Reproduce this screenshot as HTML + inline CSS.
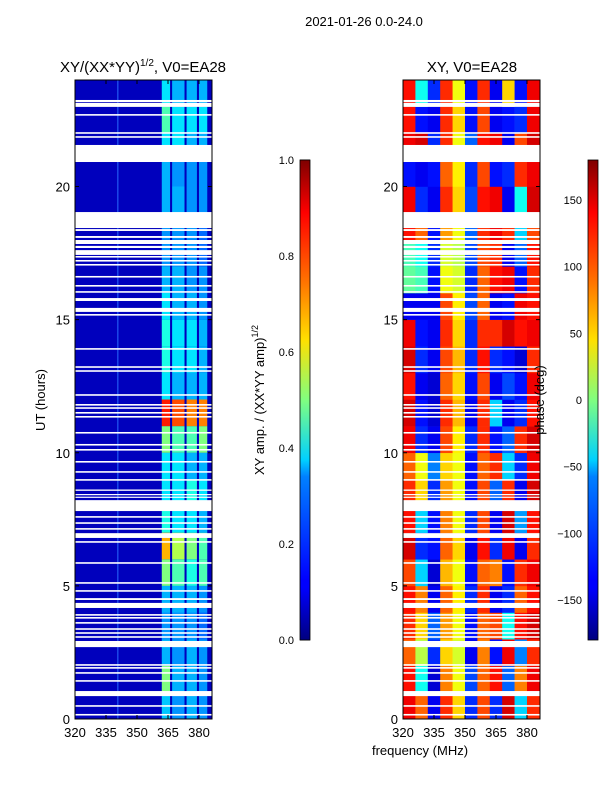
<!DOCTYPE html>
<html><head><meta charset="utf-8"><style>
body{margin:0;background:#fff;}
svg text{font-family:"Liberation Sans",sans-serif;fill:#000;}
</style></head><body>
<svg id="fig" width="600" height="800" xmlns="http://www.w3.org/2000/svg">
<defs>
<linearGradient id="jetv" x1="0" y1="1" x2="0" y2="0">
<stop offset="0" stop-color="#00007f"/><stop offset="0.11" stop-color="#0000ff"/><stop offset="0.125" stop-color="#0000ff"/>
<stop offset="0.34" stop-color="#0080ff"/><stop offset="0.375" stop-color="#00d0ff"/><stop offset="0.5" stop-color="#80ff80"/>
<stop offset="0.625" stop-color="#ffe000"/><stop offset="0.75" stop-color="#ff7000"/><stop offset="0.89" stop-color="#ff0000"/><stop offset="1" stop-color="#7f0000"/>
</linearGradient>
</defs>
<text x="364" y="26" font-size="13" text-anchor="middle">2021-01-26 0.0-24.0</text>
<text x="143" y="72" font-size="15" text-anchor="middle">XY/(XX*YY)<tspan dy="-6" font-size="10">1/2</tspan><tspan dy="6">, V0=EA28</tspan></text>
<text x="472" y="72" font-size="15" text-anchor="middle">XY, V0=EA28</text>
<text transform="translate(45,400) rotate(-90)" font-size="13" text-anchor="middle">UT (hours)</text>
<text x="420" y="755" font-size="13" text-anchor="middle">frequency (MHz)</text>
<g id="ampG"></g>
<g id="phG"></g>
<g id="axG"></g>
<rect x="300" y="160" width="10" height="480" fill="url(#jetv)" stroke="#000" stroke-width="0.8"/>
<rect x="588" y="160" width="10" height="480" fill="url(#jetv)" stroke="#000" stroke-width="0.8"/>
<text transform="translate(264,400) rotate(-90)" font-size="13" text-anchor="middle">XY amp. / (XX*YY amp)<tspan dy="-6" font-size="9">1/2</tspan></text>
<text transform="translate(544,400) rotate(-90)" font-size="13" text-anchor="middle">phase (deg)</text>
</svg>
<script>
const NS="http://www.w3.org/2000/svg";
const xTicks=[320,335,350,365,380];
const yTicks=[0,5,10,15,20];
const ampTicks=[0.0,0.2,0.4,0.6,0.8,1.0];
const phaseTicks=[-150,-100,-50,0,50,100,150];
const stripeStart=[362,367,374,380];
const stripeEnd=[366,373,379,384];
const ampBg=0.06;
const ampRows=[[.32,.27,.3,.27],[.5,.3,.3,.27],[.3,.27,.3,.27],[.27,.27,.27,.23],[.3,.3,.3,.27],[.5,.45,.4,.45],[.7,.55,.5,.45],[.4,.35,.35,.3],[.35,.35,.4,.35],[.35,.35,.3,.3],[.5,.45,.45,.5],[.85,.8,.75,.75],[.35,.3,.3,.3],[.4,.35,.35,.3],[.4,.35,.35,.3],[.35,.3,.3,.27],[.3,.3,.27,.27],[.27,.27,.27,.23],[.27,.27,.27,.23],[.3,.3,.27,.27],[.3,.27,.27,.27],[.35,.35,.3,.3],[.45,.35,.35,.35],[.35,.3,.3,.3]];
const phaseCols=[320,326,332,338,344,350,356,362,368,374,380];
const phaseRows=[
[140,100,-140,120,60,-120,110,-120,150,-60,120],[130,-40,-150,90,40,-110,100,130,-100,90,140],[100,20,-120,60,30,-140,90,-130,140,-90,120],[120,60,-100,80,40,-130,100,110,-40,130,150],
[130,90,-140,100,50,-120,120,-140,-120,100,130],[110,-60,-150,70,40,-130,100,90,-130,120,140],[150,-120,-130,100,60,-140,130,-120,140,-140,120],[130,-60,-130,90,40,-120,110,-140,150,-80,130],
[120,60,-120,80,40,-130,110,-100,120,-140,150],[100,40,-90,60,40,-130,100,120,-60,-120,140],[140,-120,-140,110,50,-120,120,-130,-100,120,150],[150,-130,-150,120,70,-140,120,-60,-140,-120,130],
[130,-140,-150,100,60,-130,110,-140,-110,-130,140],[150,-120,-140,110,70,-120,130,-120,-130,-150,120],[140,-130,-140,120,60,-120,120,120,150,130,140],[-140,-140,-140,110,50,-110,100,-140,-130,140,130],
[-10,-20,-130,40,30,-120,100,130,140,-130,120],[-20,-40,-120,30,20,-110,110,120,-140,-100,130],[130,100,-130,80,40,-100,120,140,120,-60,110],[140,-120,-140,120,60,-110,130,140,-140,-40,150],
[-130,-140,-130,100,50,-120,110,-130,-120,120,140],[140,150,-120,120,40,-100,130,140,-140,110,150],[130,-130,-140,120,60,-130,110,-140,-130,-120,140],[130,-40,-120,120,40,-130,120,-140,60,-130,140]];
const gapStart=[23.17,22.99,22.66,21.98,21.83,20.92,18.44,18.33,18.07,17.84,17.69,17.43,17.33,17.18,17.03,16.58,16.24,16.01,15.70,15.29,15.15,13.87,13.19,13.04,12.14,11.77,11.65,11.47,11.32,10.72,10.27,10.08,9.63,9.25,8.95,8.57,8.42,8.32,7.81,7.56,7.33,7.11,6.80,6.62,5.83,5.08,4.78,4.47,4.17,3.88,3.77,3.58,3.35,3.20,3.05,2.70,2.00,1.89,1.70,1.40,0.86,0.46,0.13];
const gapEnd=[23.25,23.14,22.72,22.04,21.89,21.56,19.04,18.40,18.14,17.99,17.77,17.61,17.39,17.24,17.09,16.64,16.30,16.07,15.81,15.44,15.21,13.93,13.25,13.10,12.20,11.83,11.71,11.53,11.38,10.78,10.33,10.14,9.69,9.31,9.01,8.62,8.45,8.35,8.22,7.62,7.39,7.17,6.98,6.68,5.89,5.14,4.84,4.54,4.36,3.94,3.83,3.64,3.41,3.26,3.11,2.93,2.06,1.95,1.76,1.46,1.05,0.52,0.19];

const F0=320,F1=386.3,T0=0,T1=24,PT=80,PB=719;
const panels=[{x0:75,x1:212},{x0:403,x1:540}];
function xs(p,f){return p.x0+(f-F0)/(F1-F0)*(p.x1-p.x0);}
function ys(t){return PB-(t-T0)/(T1-T0)*(PB-PT);}
function jet(v){v=Math.max(0,Math.min(1,v));
 const r=Math.max(0,Math.min(1,1.5-Math.abs(4*v-3))),g=Math.max(0,Math.min(1,1.5-Math.abs(4*v-2))),b=Math.max(0,Math.min(1,1.5-Math.abs(4*v-1)));
 return `rgb(${Math.round(r*255)},${Math.round(g*255)},${Math.round(b*255)})`;}
function R(g,x,y,w,h,fill){const r=document.createElementNS(NS,'rect');r.setAttribute('x',x);r.setAttribute('y',y);r.setAttribute('width',w);r.setAttribute('height',h);r.setAttribute('fill',fill);g.appendChild(r);return r;}
function T(g,x,y,s,anchor){const t=document.createElementNS(NS,'text');t.setAttribute('x',x);t.setAttribute('y',y);t.setAttribute('font-size','13');t.setAttribute('text-anchor',anchor);t.textContent=s;g.appendChild(t);return t;}
function L(g,x1,y1,x2,y2,w){const l=document.createElementNS(NS,'line');l.setAttribute('x1',x1);l.setAttribute('y1',y1);l.setAttribute('x2',x2);l.setAttribute('y2',y2);l.setAttribute('stroke','#000');l.setAttribute('stroke-width',w||1);g.appendChild(l);return l;}

const ampG=document.getElementById('ampG'),phG=document.getElementById('phG'),axG=document.getElementById('axG');
const A=panels[0],P=panels[1];
const bg=R(ampG,A.x0,PT,A.x1-A.x0,PB-PT,jet(ampBg));


const vline=R(ampG,xs(A,340.5),PT,1,PB-PT,'#2a6cff');


ampRows.forEach((row,h)=>{row.forEach((v,k)=>{
 const x=xs(A,stripeStart[k]),w=xs(A,stripeEnd[k])-x;
 const r=R(ampG,x,ys(h+1),w,ys(h)-ys(h+1),jet(v));
 
 
});});
phaseRows.forEach((row,h)=>{row.forEach((v,k)=>{
 const f0=phaseCols[k],f1=k+1<phaseCols.length?phaseCols[k+1]:F1;
 const x=xs(P,f0),w=xs(P,f1)-x+0.3;
 const r=R(phG,x,ys(h+1),w,ys(h)-ys(h+1)+0.3,jet((v+180)/360));
 
 
});});
panels.forEach((p,pi)=>{
 gapStart.forEach((s,i)=>{
  const y=ys(gapEnd[i]),h=Math.max(1.2,ys(s)-y);
  const r=R(pi?phG:ampG,p.x0,y,p.x1-p.x0,h,'#fff');
  
  
 });
 const fr=R(axG,p.x0,PT,p.x1-p.x0,PB-PT,'none');fr.setAttribute('stroke','#000');
 
 
 xTicks.forEach(f=>{const x=xs(p,f);L(axG,x,PB,x,PB-4);L(axG,x,PT,x,PT+4);
  const t=T(axG,x,737,String(f),'middle');
  
  });
 yTicks.forEach(v=>{const y=ys(v);L(axG,p.x0,y,p.x0+4,y);L(axG,p.x1,y,p.x1-4,y);
  const t=T(axG,p.x0-5,y+5,String(v),'end');
  
  });
});
ampTicks.forEach(v=>{const y=640-v*480;L(axG,300,y,310,y,0.8);
 const t=T(axG,294,y+4,v.toFixed(1),'end');t.setAttribute('font-size','11');
 
 });
phaseTicks.forEach(v=>{const y=640-(v+180)/360*480;L(axG,588,y,598,y,0.8);
 const t=T(axG,582,y+4,v<0?'\u2212'+(-v):String(v),'end');t.setAttribute('font-size','11');
 
 });
</script>
</body></html>
